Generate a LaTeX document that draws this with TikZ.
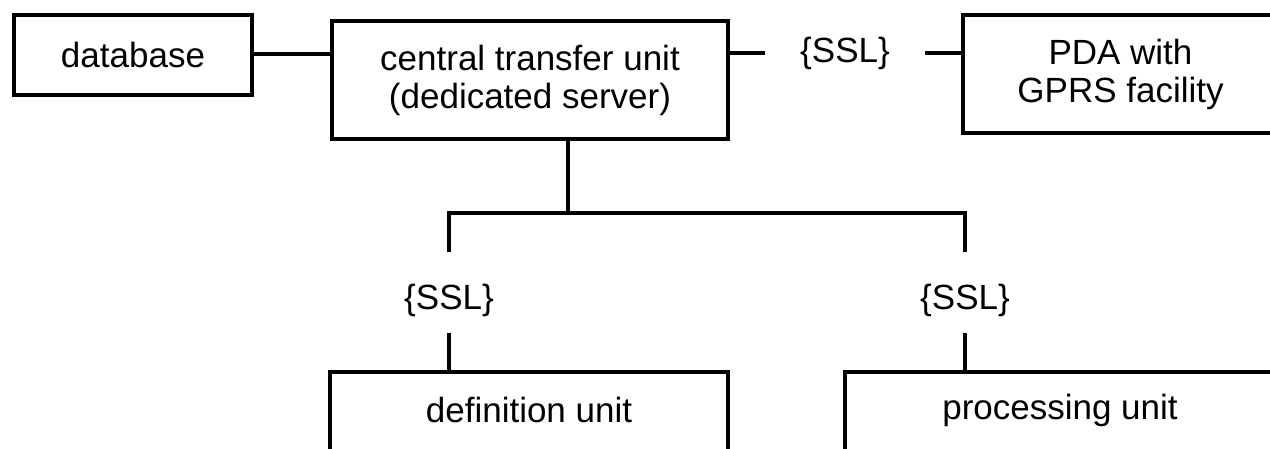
\documentclass[tikz,border=0pt]{standalone}
\usepackage{fontspec}
\setmainfont{Liberation Sans}
\begin{document}
\begin{tikzpicture}[x=1pt,y=-1pt,
  every node/.style={font=\fontsize{35}{38}\selectfont},
  box/.style={draw, line width=3.5pt, inner sep=0pt, align=center},
  lbl/.style={inner sep=0pt, align=center},
  sslh/.style={inner sep=0pt, minimum width=160pt},
  sslv/.style={inner sep=0pt, text height=57pt, text depth=24pt, anchor=base},
  conn/.style={line width=3.5pt}]
\path[use as bounding box] (0,0) rectangle (1270,448);
\clip (0,0) rectangle (1270,448);
\fill[white] (0,0) rectangle (1270,448);

\node[box, minimum width=238pt, minimum height=80pt] (db) at (133,55) {database};
\node[box, minimum width=396pt, minimum height=118pt] (ctu) at (530,80) {central transfer unit\\(dedicated server)};
\node[box, minimum width=315pt, minimum height=118pt] (pda) at (1120.5,74) {PDA with\\GPRS facility};
\node[box, minimum width=398pt, minimum height=128pt] (def) at (529,436) {};
\node[lbl] (deft) at (529,410) {definition unit};
\node[box, minimum width=430pt, minimum height=128pt] (proc) at (1060,436) {};
\node[lbl] (proct) at (1060,410) {processing unit};

\node[sslh] (ssl1) at (845,53) {\{SSL\}};
\node[sslv] (ssl2) at (449,309) {\{SSL\}};
\node[sslv] (ssl3) at (965,309) {\{SSL\}};

\coordinate (j) at (568,213);
\coordinate (hl) at (449,213);
\coordinate (hr) at (965,213);

\draw[conn] (db.east |- 0,54) -- (ctu.west |- 0,54);
\draw[conn] (ctu.east |- ssl1) -- (ssl1.west);
\draw[conn] (ssl1.east) -- (pda.west |- ssl1);
\draw[conn] (ctu.south -| j) -- (j);
\draw[conn] (ssl2.north) -- (hl) -- (hr) -- (ssl3.north);
\draw[conn] (ssl2.south) -- (ssl2.south |- def.north);
\draw[conn] (ssl3.south) -- (ssl3.south |- proc.north);
\end{tikzpicture}
\end{document}
